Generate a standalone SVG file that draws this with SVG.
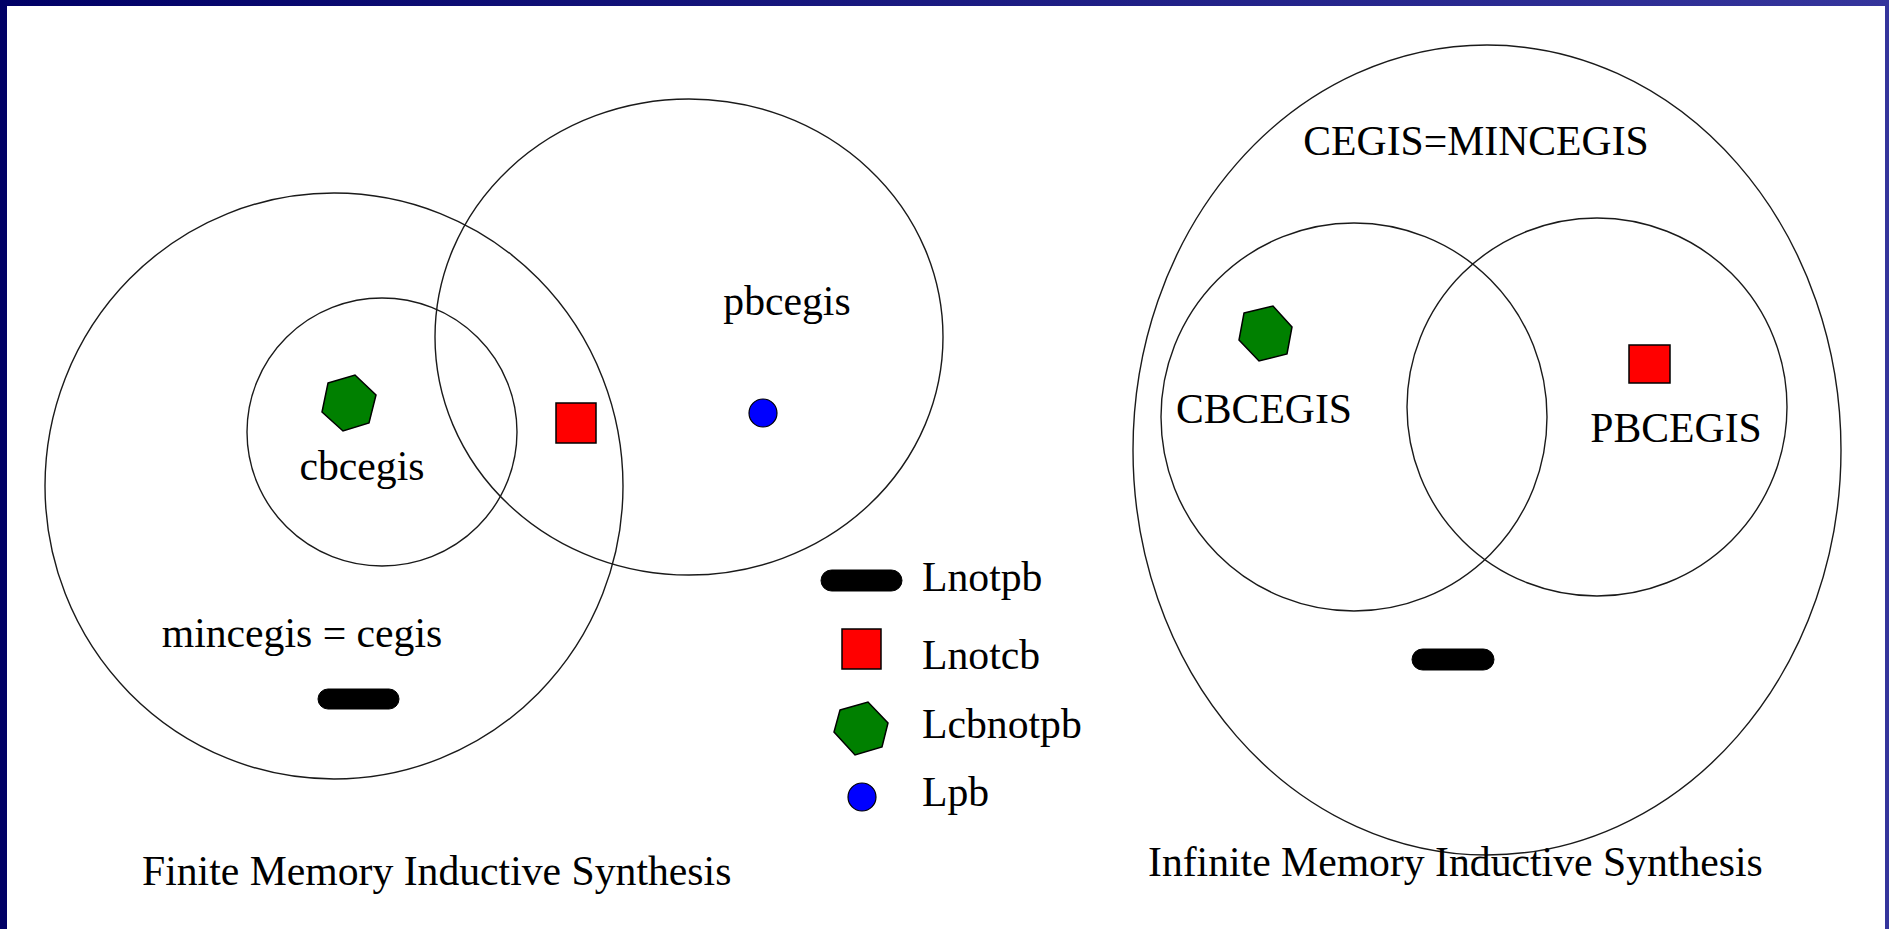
<svg xmlns="http://www.w3.org/2000/svg" width="1889" height="929" viewBox="0 0 1889 929">
<defs>
<linearGradient id="bg" x1="0" y1="0" x2="1" y2="0">
<stop offset="0" stop-color="#000066"/>
<stop offset="1" stop-color="#35359c"/>
</linearGradient>
</defs>
<style>
.ring{fill:none;stroke:#1a1a1a;stroke-width:1.4}
.hex{fill:#008000;stroke:#000;stroke-width:1.5}
.sq{fill:#ff0000;stroke:#000;stroke-width:1.5}
.dot{fill:#0000ff;stroke:#000;stroke-width:1.2}
.pill{fill:#000;stroke:#000;stroke-width:1}
text{font-family:"Liberation Serif","Times New Roman",serif;font-size:41.7px;fill:#000}
</style>
<rect x="0" y="0" width="1889" height="929" fill="url(#bg)"/>
<rect x="7" y="6" width="1878" height="923" fill="#ffffff"/>

<g id="finite">
<g id="mincegis"><ellipse class="ring" cx="334" cy="486" rx="289" ry="293"/><text x="302" y="647" text-anchor="middle">mincegis = cegis</text></g>
<g id="cbcegis"><ellipse class="ring" cx="382" cy="432" rx="135" ry="134"/><text x="362" y="480" text-anchor="middle">cbcegis</text></g>
<g id="pbcegis"><ellipse class="ring" cx="689" cy="337" rx="254" ry="238"/><text x="787" y="315" text-anchor="middle">pbcegis</text></g>
<polygon id="hex-finite" class="hex" points="328,383 355,375 376,395 369,423 343,431 322,412"/>
<rect id="sq-finite" class="sq" x="556" y="403" width="40" height="40"/>
<circle id="dot-finite" class="dot" cx="763" cy="413" r="14"/>
<rect id="pill-finite" class="pill" x="318" y="689" width="81" height="20" rx="10"/>
<text id="title-finite" x="142" y="885">Finite Memory Inductive Synthesis</text>
</g>

<g id="legend">
<g id="leg-lnotpb"><rect class="pill" x="821" y="570" width="81" height="21" rx="10.5"/><text x="922" y="591">Lnotpb</text></g>
<g id="leg-lnotcb"><rect class="sq" x="842" y="629" width="39" height="40"/><text x="922" y="669">Lnotcb</text></g>
<g id="leg-lcbnotpb"><polygon class="hex" points="840,710 868,702 888,723 882,747 855,755 834,732"/><text x="922" y="738">Lcbnotpb</text></g>
<g id="leg-lpb"><circle class="dot" cx="862" cy="797" r="14"/><text x="922" y="806">Lpb</text></g>
</g>

<g id="infinite">
<g id="cegis"><ellipse class="ring" cx="1487" cy="450" rx="354" ry="405"/><text x="1476" y="155" text-anchor="middle">CEGIS=MINCEGIS</text></g>
<g id="CBCEGIS"><ellipse class="ring" cx="1354" cy="417" rx="193" ry="194"/><text x="1264" y="423" text-anchor="middle">CBCEGIS</text></g>
<g id="PBCEGIS"><ellipse class="ring" cx="1597" cy="407" rx="190" ry="189"/><text x="1676" y="442" text-anchor="middle">PBCEGIS</text></g>
<polygon id="hex-infinite" class="hex" points="1244,313 1273,306 1292,327 1287,354 1259,361 1239,340"/>
<rect id="sq-infinite" class="sq" x="1629" y="345" width="41" height="38"/>
<rect id="pill-infinite" class="pill" x="1412" y="649" width="82" height="21" rx="10.5"/>
<text id="title-infinite" x="1148" y="876">Infinite Memory Inductive Synthesis</text>
</g>
</svg>
